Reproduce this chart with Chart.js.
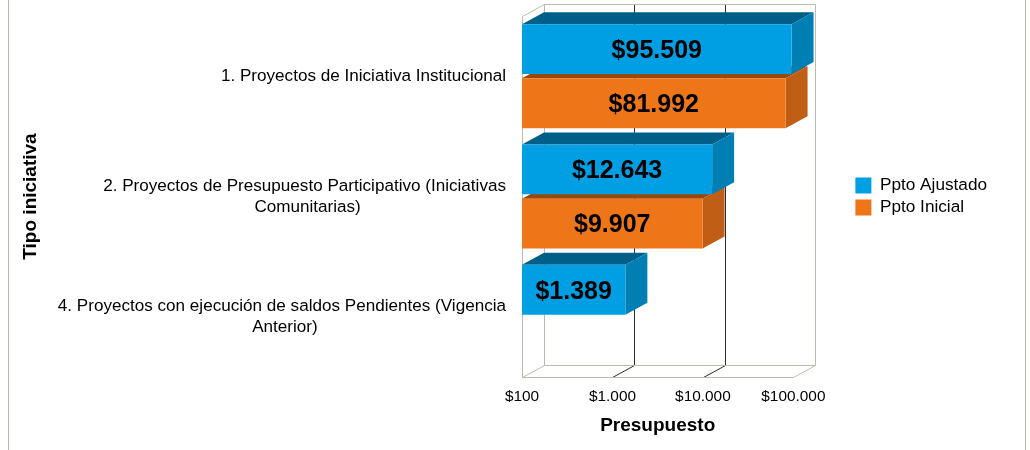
<!DOCTYPE html>
<html>
<head>
<meta charset="utf-8">
<script src="https://cdn.jsdelivr.net/npm/chart.js@4"></script>
<style>
    html, body { margin:0; padding:0; background:#fff; }
    #wrap { position:relative; width:1030px; height:450px; overflow:hidden; }
    #frame { position:absolute; left:8px; top:0; width:1016px; height:450px; border-left:1px solid #b9b9ab; border-right:1px solid #b9b9ab; }
    canvas { position:absolute; left:0; top:0; }
</style>
</head>
<body>
<div id="wrap">
    <div id="frame"></div>
    <canvas id="budgetChart" width="1030" height="450"></canvas>
</div>
<script>
// datos
const categories = [
    ['1. Proyectos de Iniciativa Institucional'],
    ['2. Proyectos de Presupuesto Participativo (Iniciativas', 'Comunitarias)'],
    ['4. Proyectos con ejecución de saldos Pendientes (Vigencia', 'Anterior)']
];
const pptoAjustado = [95509, 12643, 1389];
const pptoInicial = [81992, 9907, null];
const xTickValues = [100, 1000, 10000, 100000];

const FONT = '"Liberation Sans", Arial, sans-serif';
const DEPTH_X = 22, DEPTH_Y = -12;
const LEGEND_SHIFT = 57;

function money(v) {
    return '$' + v.toLocaleString('de-DE');
}

function poly(ctx, pts, color) {
    ctx.fillStyle = color;
    ctx.beginPath();
    pts.forEach((p, i) => i ? ctx.lineTo(p[0], p[1]) : ctx.moveTo(p[0], p[1]));
    ctx.closePath();
    ctx.fill();
}

function line(ctx, x1, y1, x2, y2, color) {
    ctx.strokeStyle = color;
    ctx.lineWidth = 1;
    ctx.beginPath();
    ctx.moveTo(x1 + 0.5, y1 + 0.5);
    ctx.lineTo(x2 + 0.5, y2 + 0.5);
    ctx.stroke();
}

// paredes, caras 3D, etiquetas de categoria y valores
const fake3d = {
    id: 'fake3d',
    afterLayout(chart) {
        chart.legend.left += LEGEND_SHIFT;
        chart.legend.right += LEGEND_SHIFT;
    },
    beforeDatasetsDraw(chart) {
        const ctx = chart.ctx, a = chart.chartArea, sx = chart.scales.x, sy = chart.scales.y;
        const wall = '#bcbcae', grid = '#2b2b2b';
        const t = Math.round(a.top), b = Math.round(a.bottom), l = Math.round(a.left), r = Math.round(a.right);
        ctx.save();
        xTickValues.slice(1, -1).forEach(v => {
            const x = Math.round(sx.getPixelForValue(v));
            line(ctx, x + DEPTH_X, t + DEPTH_Y, x + DEPTH_X, b + DEPTH_Y, grid);
            line(ctx, x, b, x + DEPTH_X, b + DEPTH_Y, grid);
        });
        line(ctx, l, t, l, b, wall);
        line(ctx, l, b, r, b, wall);
        line(ctx, l, t, l + DEPTH_X, t + DEPTH_Y, wall);
        line(ctx, l, b, l + DEPTH_X, b + DEPTH_Y, wall);
        line(ctx, r, b, r + DEPTH_X, b + DEPTH_Y, wall);
        line(ctx, l + DEPTH_X, t + DEPTH_Y, r + DEPTH_X, t + DEPTH_Y, wall);
        line(ctx, l + DEPTH_X, b + DEPTH_Y, r + DEPTH_X, b + DEPTH_Y, wall);
        line(ctx, l + DEPTH_X, t + DEPTH_Y, l + DEPTH_X, b + DEPTH_Y, wall);
        line(ctx, r + DEPTH_X, t + DEPTH_Y, r + DEPTH_X, b + DEPTH_Y, wall);

        // primero naranja, luego azul, para que el frente azul tape la cara superior naranja
        [1, 0].forEach(i => {
            const topColor = i === 0 ? '#005f88' : '#97490e';
            const sideColor = i === 0 ? '#007fb5' : '#bf5e14';
            chart.getDatasetMeta(i).data.forEach((bar, j) => {
                if (chart.data.datasets[i].data[j] == null) return;
                const y0 = bar.y - bar.height / 2, y1 = bar.y + bar.height / 2;
                poly(ctx, [[bar.base, y0], [bar.x, y0], [bar.x + DEPTH_X, y0 + DEPTH_Y], [bar.base + DEPTH_X, y0 + DEPTH_Y]], topColor);
                poly(ctx, [[bar.x, y0], [bar.x + DEPTH_X, y0 + DEPTH_Y], [bar.x + DEPTH_X, y1 + DEPTH_Y], [bar.x, y1]], sideColor);
            });
        });

        // etiquetas del eje y, lineas centradas dentro del bloque
        ctx.font = '17.1px ' + FONT;
        ctx.fillStyle = '#000';
        ctx.textBaseline = 'middle';
        ctx.textAlign = 'center';
        categories.forEach((lines, i) => {
            const widest = Math.max(...lines.map(s => ctx.measureText(s).width));
            const cx = a.left - 16 - widest / 2;
            const cy = sy.getPixelForTick(i);
            lines.forEach((s, k) => {
                // la segunda linea va un poco a la derecha, como en el original
                ctx.fillText(s, cx + (k ? 3 : 0), cy + (k - (lines.length - 1) / 2) * 21);
            });
        });
        ctx.restore();
    },
    afterDatasetsDraw(chart) {
        const ctx = chart.ctx;
        ctx.save();
        ctx.font = 'bold 25px ' + FONT;
        ctx.fillStyle = '#000';
        ctx.textAlign = 'center';
        ctx.textBaseline = 'middle';
        chart.data.datasets.forEach((ds, i) => {
            chart.getDatasetMeta(i).data.forEach((bar, j) => {
                if (ds.data[j] == null) return;
                ctx.fillText(money(ds.data[j]), (bar.base + bar.x) / 2, bar.y + 2);
            });
        });
        ctx.restore();
    }
};

new Chart(document.getElementById('budgetChart'), {
    type: 'bar',
    plugins: [fake3d],
    data: {
        labels: categories,
        datasets: [
            {label:'Ppto Ajustado', data:pptoAjustado, backgroundColor:'#009fe3', borderWidth:0, barPercentage:0.92, categoryPercentage:0.9},
            {label:'Ppto Inicial', data:pptoInicial, backgroundColor:'#ef7519', borderWidth:0, barPercentage:0.92, categoryPercentage:0.9}
        ]
    },
    options: {
        indexAxis: 'y',
        responsive: false,
        animation: false,
        layout: { padding: {top:16, right:90, bottom:13, left:19} },
        plugins: {
            tooltip: {enabled:false},
            legend: {
                position: 'right',
                fullSize: false,
                labels: {
                    boxWidth: 16,
                    boxHeight: 16,
                    padding: 5,
                    color: '#000',
                    font: {family:FONT, size:17.2}
                }
            }
        },
        scales: {
            x: {
                type: 'logarithmic',
                min: 100,
                max: 100000,
                grid: {display:false},
                border: {display:false},
                afterFit: s => { s.height = 60; },
                afterBuildTicks: s => { s.ticks = xTickValues.map(v => ({value:v, major:true})); },
                ticks: {
                    autoSkip: false,
                    maxRotation: 0,
                    padding: 3,
                    color: '#000',
                    font: {family:FONT, size:15.4},
                    callback: v => money(v)
                },
                title: {
                    display: true,
                    text: 'Presupuesto',
                    color: '#000',
                    font: {family:FONT, size:19, weight:'bold'},
                    padding: 0
                }
            },
            y: {
                grid: {display:false},
                border: {display:false},
                afterFit: s => { s.width = 503; },
                ticks: {display:false},
                title: {
                    display: true,
                    text: 'Tipo iniciativa',
                    color: '#000',
                    font: {family:FONT, size:19, weight:'bold'},
                    padding: 0
                }
            }
        }
    }
});
</script>
</body>
</html>
